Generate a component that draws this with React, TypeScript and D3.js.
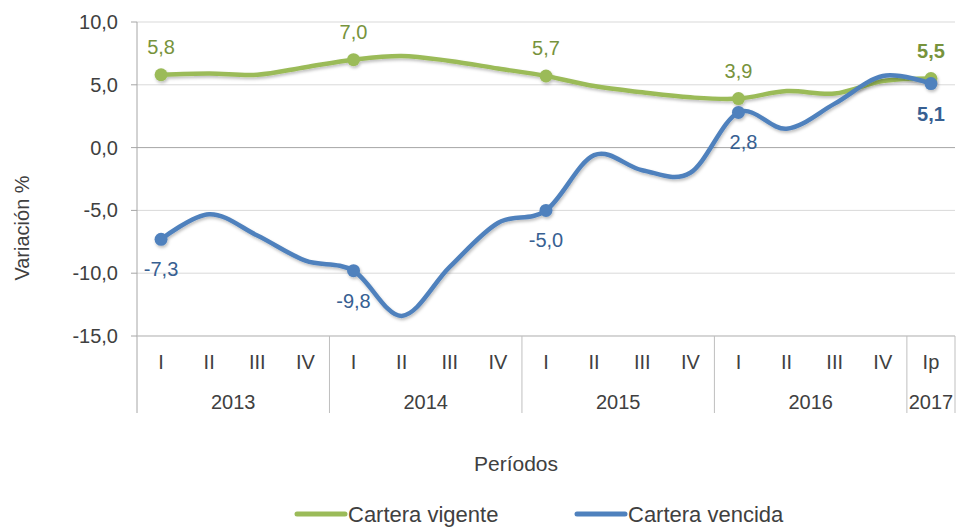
import React from "react";
import * as d3 from "d3";

const quarters = ["I","II","III","IV","I","II","III","IV","I","II","III","IV","I","II","III","IV","Ip"];
const years = ["2013","2014","2015","2016","2017"];
const yearSpans = [4,4,4,4,1];
const vigente = [5.8,5.9,5.8,6.4,7.0,7.3,6.9,6.3,5.7,4.9,4.4,4.0,3.9,4.5,4.3,5.3,5.5];
const vencida = [-7.3,-5.3,-7.0,-9.0,-9.8,-13.4,-9.5,-6.0,-5.0,-0.6,-1.8,-2.0,2.8,1.5,3.5,5.7,5.1];
const labelIdx = [0,4,8,12,16];
const yTicks = [10,5,0,-5,-10,-15];

const W = 957, H = 527;
const left = 137, right = 955, top = 22, bottom = 336;
const green = "#9BBB59", blue = "#4F81BD";
const greenText = "#77933C", blueText = "#376092";
const font = "'Liberation Sans', Arial, sans-serif";
const fmt = (v: number) => v.toFixed(1).replace(".", ",");

export default function App() {
  const x = d3.scaleBand<number>().domain(d3.range(quarters.length)).range([left, right]).padding(0);
  const cx = (i: number) => (x(i) as number) + x.bandwidth() / 2;
  const y = d3.scaleLinear().domain([-15, 10]).range([bottom, top]);
  const line = d3.line<number>().x((_, i) => cx(i)).y(v => y(v)).curve(d3.curveCatmullRom.alpha(0));

  let acc = 0;
  const yearBounds = yearSpans.map(s => { const a = acc; acc += s; return [a, acc]; });
  const xEdge = (k: number) => left + k * x.bandwidth();

  return (
    <svg width={W} height={H} style={{ position: "absolute", left: 0, top: 0, background: "#fff" }}>
      <defs>
        <filter id="sh" x="-20%" y="-50%" width="140%" height="200%">
          <feDropShadow dx="1" dy="2" stdDeviation="1.5" floodColor="#000" floodOpacity="0.25" />
        </filter>
      </defs>
      {yTicks.map(t => (
        <g key={t}>
          <line x1={left} x2={right} y1={y(t)} y2={y(t)} stroke={t === 0 ? "#a6a6a6" : "#d9d9d9"} strokeWidth={1} />
          <line x1={left - 6} x2={left} y1={y(t)} y2={y(t)} stroke="#a6a6a6" />
          <text x={118} y={y(t)} dy="0.35em" textAnchor="end" fontFamily={font} fontSize={20} fill="#404040">{fmt(t)}</text>
        </g>
      ))}
      <line x1={left} x2={left} y1={top} y2={413} stroke="#a6a6a6" />
      <line x1={left} x2={right} y1={bottom} y2={bottom} stroke="#bfbfbf" />
      {yearBounds.map(([a, b], k) => (
        <g key={k}>
          <line x1={xEdge(b)} x2={xEdge(b)} y1={bottom} y2={413} stroke="#bfbfbf" />
          <text x={(xEdge(a) + xEdge(b)) / 2} y={409} textAnchor="middle" fontFamily={font} fontSize={20} fill="#404040">{years[k]}</text>
        </g>
      ))}
      {quarters.map((q, i) => (
        <text key={i} x={cx(i)} y={369} textAnchor="middle" fontFamily={font} fontSize={20} fill="#404040">{q}</text>
      ))}
      <text transform={`translate(29,228) rotate(-90)`} textAnchor="middle" fontFamily={font} fontSize={20} fill="#404040">Variación %</text>
      <text x={516} y={471} textAnchor="middle" fontFamily={font} fontSize={21} fill="#404040">Períodos</text>

      <g filter="url(#sh)">
        <path d={line(vigente) as string} fill="none" stroke={green} strokeWidth={4.5} strokeLinecap="round" />
        {labelIdx.map(i => <circle key={i} cx={cx(i)} cy={y(vigente[i])} r={6.5} fill={green} />)}
      </g>
      <g filter="url(#sh)">
        <path d={line(vencida) as string} fill="none" stroke={blue} strokeWidth={4.5} strokeLinecap="round" />
        {labelIdx.map(i => <circle key={i} cx={cx(i)} cy={y(vencida[i])} r={6.5} fill={blue} />)}
      </g>
      {labelIdx.map(i => (
        <text key={"g" + i} x={cx(i)} y={y(vigente[i]) - 28} dy="0.35em" textAnchor="middle" fontFamily={font} fontSize={20}
          fontWeight={i === 16 ? "bold" : "normal"} fill={greenText}>{fmt(vigente[i])}</text>
      ))}
      {labelIdx.map(i => (
        <text key={"b" + i} x={cx(i) + (i === 12 ? 5 : 0)} y={y(vencida[i]) + 30} dy="0.35em" textAnchor="middle" fontFamily={font} fontSize={20}
          fontWeight={i === 16 ? "bold" : "normal"} fill={blueText}>{fmt(vencida[i])}</text>
      ))}

      <line x1={297} x2={345} y1={514} y2={514} stroke={green} strokeWidth={5} strokeLinecap="round" />
      <text x={348} y={522} fontFamily={font} fontSize={22} fill="#404040">Cartera vigente</text>
      <line x1={577} x2={625} y1={514} y2={514} stroke={blue} strokeWidth={5} strokeLinecap="round" />
      <text x={628} y={522} fontFamily={font} fontSize={22} fill="#404040">Cartera vencida</text>
    </svg>
  );
}
